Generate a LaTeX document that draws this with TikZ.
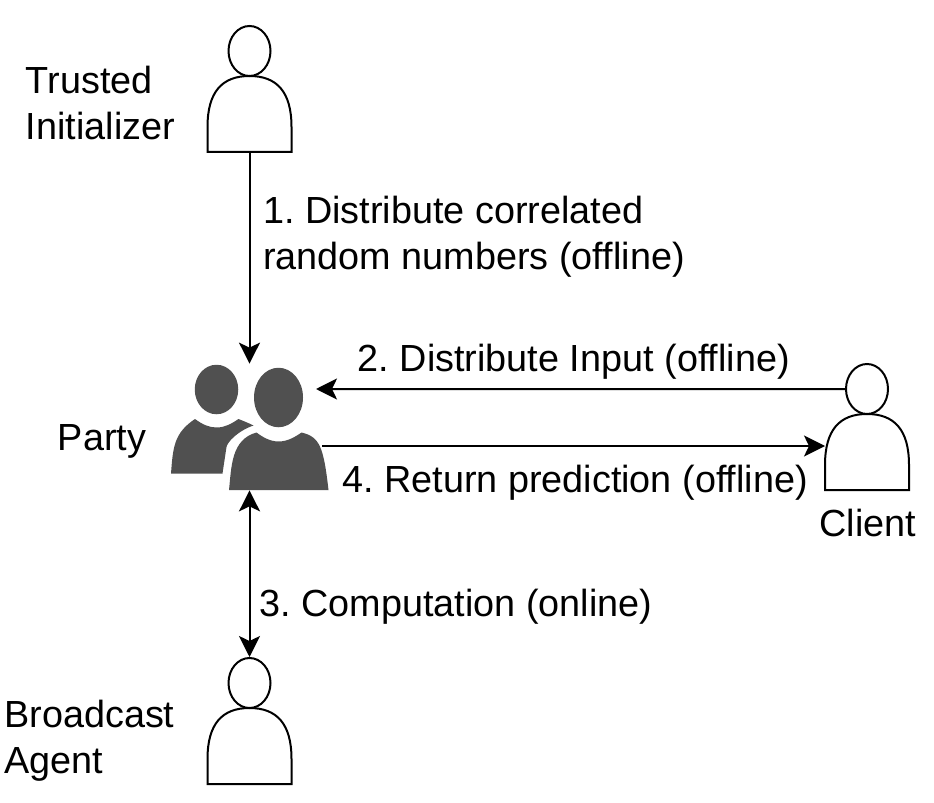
\documentclass[tikz,border=0pt]{standalone}
\usepackage{fontspec}
\setmainfont{Liberation Sans}
\usepackage{tikz}
\usetikzlibrary{arrows.meta}
\usetikzlibrary{shapes.geometric}

\definecolor{partygray}{HTML}{505050}

\begin{document}
\begin{tikzpicture}[
    label/.style={inner sep=0pt, anchor=west, align=left, font=\fontsize{21.5}{26.2}\selectfont\frenchspacing},
    arrow/.style={line width=0.04cm, -{Stealth[length=0.42cm, width=0.42cm, inset=0.1cm]}},
    biarrow/.style={line width=0.04cm, {Stealth[length=0.42cm, width=0.42cm, inset=0.1cm]}-{Stealth[length=0.42cm, width=0.42cm, inset=0.1cm]}},
    head/.style={ellipse, draw, line width=0.04cm, inner sep=0pt, minimum width=0.84cm, minimum height=1cm},
    body/.style={rectangle, inner sep=0pt, minimum width=1.68cm, minimum height=1.52cm},
    person/.pic={
        \node[head] (-head) at (0,2.02) {};
        \node[body] (-body) at (0,0.76) {};
        \draw[line width=0.04cm] (-0.84,0) -- (-0.84,0.5) .. controls (-0.84,1.2) and (-0.55,1.52) .. (0,1.52)
            .. controls (0.55,1.52) and (0.84,1.2) .. (0.84,0.5) -- (0.84,0) -- cycle;
    }
]
    \useasboundingbox (0,0) rectangle (18.68,16.04);

    % People
    \pic (trusted) at (4.99,13) {person};
    \pic (client) at (17.34,6.24) {person};
    \pic (broadcast) at (4.99,0.36) {person};

    % Party group
    \node[inner sep=0pt, minimum width=3.14cm, minimum height=2.52cm] (party) at (4.99,7.5) {};
    \fill[partygray] (3.42,6.57) .. controls (3.46,7.1) and (3.48,7.38) .. (3.9,7.66)
        .. controls (4.05,7.55) and (4.18,7.49) .. (4.33,7.49)
        .. controls (4.5,7.49) and (4.62,7.56) .. (4.77,7.66)
        .. controls (4.87,7.62) and (4.97,7.58) .. (5.07,7.53)
        .. controls (4.75,7.42) and (4.55,7.2) .. (4.53,7.1) -- (4.45,6.57) -- cycle;
    \fill[partygray] (4.58,6.24) .. controls (4.63,6.7) and (4.62,7.25) .. (5.13,7.39)
        .. controls (5.25,7.3) and (5.4,7.21) .. (5.57,7.21)
        .. controls (5.75,7.21) and (5.9,7.3) .. (6.03,7.39)
        .. controls (6.4,7.3) and (6.47,7.1) .. (6.57,6.24) -- cycle;
    \node[ellipse, fill=partygray, inner sep=0pt, minimum width=0.87cm, minimum height=0.99cm] (partyback) at (4.33,8.25) {};
    \node[ellipse, fill=partygray, inner sep=0pt, minimum width=0.98cm, minimum height=1.19cm] (partyfront) at (5.57,8.09) {};

    % Free ends on the side of the group and the client
    \coordinate (partyin) at (6.32,8.26);
    \coordinate (partyout) at (6.44,7.12);
    \coordinate (clientin) at (16.5,7.12);

    % Messages
    \draw[arrow] (trusted-body.south) -- (party.north);
    \draw[arrow] (client-head.west) -- (partyin);
    \draw[arrow] (partyout) -- (clientin);
    \draw[biarrow] (party.south) -- (broadcast-head.north);

    % Labels
    \node[label] (trustedlabel) at (0.51,13.98) {Trusted\\Initializer};
    \node[label] (partylabel) at (1.15,7.22) {Party};
    \node[label] (clientlabel) at (16.38,5.58) {Client};
    \node[label] (broadcastlabel) at (0.08,1.23) {Broadcast\\Agent};
    \node[label] (step1) at (5.26,11.31) {1. Distribute correlated\\random numbers (offline)};
    \node[label] (step2) at (7.15,8.81) {2. Distribute Input (offline)};
    \node[label] (step3) at (5.18,3.9) {3. Computation (online)};
    \node[label] (step4) at (6.84,6.39) {4. Return prediction (offline)};
\end{tikzpicture}
\end{document}
